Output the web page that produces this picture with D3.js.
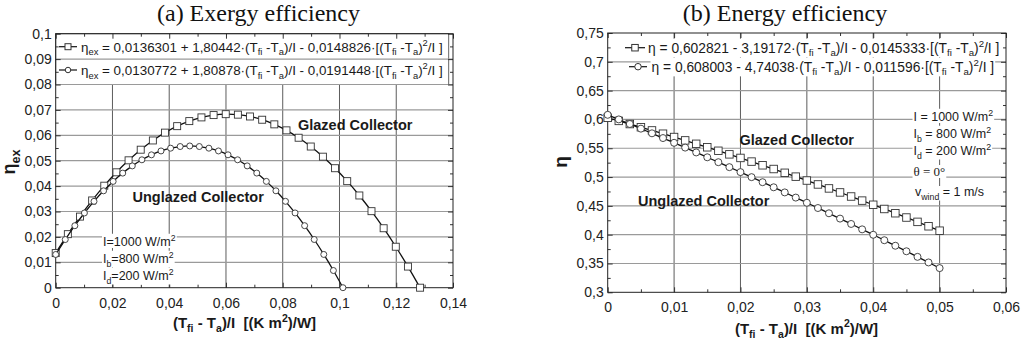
<!DOCTYPE html>
<html><head><meta charset="utf-8">
<script src="https://cdn.jsdelivr.net/npm/d3@7"></script>
<style>
body{margin:0;background:#fff;}
svg{display:block;font-family:"Liberation Sans",Arial,sans-serif;}
text{white-space:pre;}
</style></head><body>
<svg id="c" width="1024" height="344"></svg>
<script>
// ---------- data ----------
const exGlazedX = [0,0.00428,0.00856,0.01284,0.01712,0.0214,0.02568,0.02996,0.03424,0.03852,0.0428,0.04708,0.05136,0.05564,0.05992,0.0642,0.06848,0.07276,0.07704,0.08132,0.0856,0.08988,0.09416,0.09844,0.10272,0.107,0.11128,0.11556,0.11984,0.12412,0.1284];
const exGlazedY = [0.01363,0.02108,0.02799,0.03435,0.04016,0.04543,0.05015,0.05433,0.05797,0.06105,0.06360,0.06559,0.06705,0.06796,0.06832,0.06813,0.06741,0.06613,0.06431,0.06195,0.05904,0.05558,0.05158,0.04704,0.04195,0.03631,0.03013,0.02341,0.01613,0.00832,0];
const exUnglazedX = [0,0.00337,0.00675,0.01012,0.0135,0.01687,0.02024,0.02362,0.02699,0.03037,0.03374,0.03711,0.04049,0.04386,0.04724,0.05061,0.05398,0.05736,0.06073,0.06411,0.06748,0.07085,0.07423,0.0776,0.08098,0.08435,0.08772,0.0911,0.09447,0.09785,0.10122];
const exUnglazedY = [0.01308,0.01896,0.02441,0.02942,0.03400,0.03814,0.04185,0.04512,0.04795,0.05035,0.05231,0.05384,0.05493,0.05558,0.05580,0.05558,0.05493,0.05384,0.05232,0.05035,0.04796,0.04513,0.04186,0.03815,0.03401,0.02943,0.02442,0.01898,0.01309,0.00677,0];
const enX = [0,0.00167,0.00333,0.005,0.00667,0.00833,0.01,0.01167,0.01333,0.015,0.01667,0.01833,0.02,0.02167,0.02333,0.025,0.02667,0.02833,0.03,0.03167,0.03333,0.035,0.03667,0.03833,0.04,0.04167,0.04333,0.045,0.04667,0.04833,0.05];
const enGlazedY = [0.60282,0.59746,0.59202,0.58650,0.58090,0.57521,0.56945,0.56361,0.55768,0.55168,0.54559,0.53942,0.53317,0.52684,0.52044,0.51395,0.50737,0.50072,0.49399,0.48718,0.48028,0.47331,0.46625,0.45912,0.45190,0.44460,0.43722,0.42977,0.42223,0.41460,0.40690];
const enUnglazedY = [0.60800,0.60007,0.59207,0.58401,0.57589,0.56769,0.55944,0.55112,0.54274,0.53429,0.52578,0.51720,0.50856,0.49985,0.49108,0.48225,0.47335,0.46438,0.45536,0.44626,0.43711,0.42789,0.41860,0.40925,0.39984,0.39036,0.38081,0.37121,0.36153,0.35180,0.34200];

const exXTicks = [0,0.02,0.04,0.06,0.08,0.1,0.12,0.14];
const exXLabels = ["0","0,02","0,04","0,06","0,08","0,1","0,12","0,14"];
const exXMinor = [0.01,0.03,0.05,0.07,0.09,0.11,0.13];
const exYTicks = [0,0.01,0.02,0.03,0.04,0.05,0.06,0.07,0.08,0.09,0.1];
const exYLabels = ["0","0,01","0,02","0,03","0,04","0,05","0,06","0,07","0,08","0,09","0,1"];
const exYMinor = [0.005,0.015,0.025,0.035,0.045,0.055,0.065,0.075,0.085,0.095];
const enXTicks = [0,0.01,0.02,0.03,0.04,0.05,0.06];
const enXLabels = ["0","0,01","0,02","0,03","0,04","0,05","0,06"];
const enXMinor = [0.005,0.015,0.025,0.035,0.045,0.055];
const enYTicks = [0.3,0.35,0.4,0.45,0.5,0.55,0.6,0.65,0.7,0.75];
const enYLabels = ["0,3","0,35","0,4","0,45","0,5","0,55","0,6","0,65","0,7","0,75"];
const enYMinor = [0.325,0.375,0.425,0.475,0.525,0.575,0.625,0.675,0.725];

const titles = ["(a) Exergy efficiency","(b) Energy efficiency"];
const seriesNames = ["Glazed Collector","Unglazed Collector"];

// ---------- helpers ----------
const svg = d3.select("#c");
function rich(t, segs, fs){
  let off = 0;
  segs.forEach(([s,k])=>{
    const ts = t.append("tspan").text(s);
    let target = 0;
    if(k==="sub"){ ts.attr("font-size", fs*0.7); target = fs*0.28; }
    else if(k==="sup"){ ts.attr("font-size", fs*0.7); target = -fs*0.42; }
    if(target!==off){ ts.attr("dy", target-off); off = target; }
  });
  return t;
}
function label(g, x, y, segs, o){
  o = o||{};
  const fs = o.fs||13;
  const t = g.append("text").attr("x",x).attr("y",y)
    .attr("font-size",fs).attr("fill",o.fill||"#1a1a1a")
    .attr("text-anchor",o.anchor||"start");
  if(o.bold) t.attr("font-weight","bold");
  if(o.family) t.attr("font-family",o.family);
  if(o.transform) t.attr("transform",o.transform);
  rich(t, segs, fs);
  if(o.bg){
    const b = t.node().getBBox();
    g.insert("rect", ()=>t.node()).attr("x",b.x-1).attr("y",b.y+1).attr("width",b.width+2).attr("height",b.height-2).attr("fill","#fff");
  }
  return t;
}

function panel(P){
  const g = svg.append("g");
  const x = d3.scaleLinear().domain(P.xd).range(P.xr);
  const y = d3.scaleLinear().domain(P.yd).range(P.yr);
  const [x0,x1] = P.xr, [yb,yt] = P.yr;

  // vertical gridlines
  g.append("g").selectAll("line").data(P.xt.slice(1,-1)).join("line")
    .attr("x1",d=>x(d)).attr("x2",d=>x(d)).attr("y1",P.vGridTop||yt).attr("y2",yb)
    .attr("stroke","#4a4a4a").attr("stroke-width",0.9);
  if(P.legendBox){
    g.append("rect").attr("x",x0).attr("y",yt).attr("width",P.legendBox.w).attr("height",P.legendBox.h)
      .attr("fill","#fff").attr("stroke","#555").attr("stroke-width",0.9);
  }
  // horizontal gridlines
  g.append("g").selectAll("line").data(P.yt.slice(1,-1)).join("line")
    .attr("x1",x0).attr("x2",x1).attr("y1",d=>y(d)).attr("y2",d=>y(d))
    .attr("stroke","#9a9a9a").attr("stroke-width",1.2);

  // axes (inward ticks)
  const fmtX = (d,i)=>P.xl[i], fmtY=(d,i)=>P.yl[i];
  const style = s=>s.attr("font-family","Liberation Sans, Arial, sans-serif").attr("font-size",14)
      .call(a=>a.select(".domain").remove()).call(a=>a.selectAll("line").attr("stroke","#333"))
      .call(a=>a.selectAll("text").attr("fill","#222"));
  g.append("g").attr("transform",`translate(0,${yb})`).call(d3.axisBottom(x).tickValues(P.xt).tickFormat(fmtX).tickSizeInner(-5).tickSizeOuter(0).tickPadding(P.xpad)).call(style);
  g.append("g").attr("transform",`translate(0,${yb})`).call(d3.axisBottom(x).tickValues(P.xm).tickFormat("").tickSizeInner(-3).tickSizeOuter(0)).call(style);
  g.append("g").attr("transform",`translate(0,${yt})`).call(d3.axisTop(x).tickValues(P.xt).tickFormat("").tickSizeInner(-5).tickSizeOuter(0)).call(style);
  g.append("g").attr("transform",`translate(0,${yt})`).call(d3.axisTop(x).tickValues(P.xm).tickFormat("").tickSizeInner(-3).tickSizeOuter(0)).call(style);
  g.append("g").attr("transform",`translate(${x0},0)`).call(d3.axisLeft(y).tickValues(P.yt).tickFormat(fmtY).tickSizeInner(-5).tickSizeOuter(0).tickPadding(4)).call(style);
  g.append("g").attr("transform",`translate(${x0},0)`).call(d3.axisLeft(y).tickValues(P.ym).tickFormat("").tickSizeInner(-3).tickSizeOuter(0)).call(style);
  g.append("g").attr("transform",`translate(${x1},0)`).call(d3.axisRight(y).tickValues(P.yt).tickFormat("").tickSizeInner(-5).tickSizeOuter(0)).call(style);
  g.append("g").attr("transform",`translate(${x1},0)`).call(d3.axisRight(y).tickValues(P.ym).tickFormat("").tickSizeInner(-3).tickSizeOuter(0)).call(style);

  // frame
  g.append("rect").attr("x",x0).attr("y",yt).attr("width",x1-x0).attr("height",yb-yt)
    .attr("fill","none").attr("stroke","#222").attr("stroke-width",1);

  // series
  const line = d3.line().x(d=>x(d[0])).y(d=>y(d[1])).curve(d3.curveCatmullRom);
  P.series.forEach(s=>{
    const pts = s.x.map((v,i)=>[v,s.y[i]]);
    g.append("path").attr("d",line(pts)).attr("fill","none").attr("stroke","#111").attr("stroke-width",1.3);
    const m = g.append("g");
    if(s.shape==="square"){
      m.selectAll("rect").data(pts).join("rect")
        .attr("x",d=>x(d[0])-s.size/2).attr("y",d=>y(d[1])-s.size/2).attr("width",s.size).attr("height",s.size)
        .attr("fill","#fff").attr("stroke","#333").attr("stroke-width",0.9);
    } else {
      m.selectAll("circle").data(pts).join("circle")
        .attr("cx",d=>x(d[0])).attr("cy",d=>y(d[1])).attr("r",s.size/2)
        .attr("fill","#fff").attr("stroke","#333").attr("stroke-width",0.9);
    }
  });
  return {g,x,y};
}

// ---------- panel (a) ----------
const A = panel({xd:[0,0.14], xr:[55.7,453], yd:[0,0.1], yr:[287.7,33.7],
  xt:exXTicks, xl:exXLabels, xm:exXMinor, yt:exYTicks, yl:exYLabels, ym:exYMinor, xpad:10,
  vGridTop:84.5, legendBox:{w:393,h:50.8},
  series:[{x:exGlazedX,y:exGlazedY,shape:"square",size:7},{x:exUnglazedX,y:exUnglazedY,shape:"circle",size:6}]});

// ---------- panel (b) ----------
const B = panel({xd:[0,0.06], xr:[607.7,1006], yd:[0.3,0.75], yr:[292.3,33],
  xt:enXTicks, xl:enXLabels, xm:enXMinor, yt:enYTicks, yl:enYLabels, ym:enYMinor, xpad:9.5,
  series:[{x:enX,y:enGlazedY,shape:"square",size:7.5},{x:enX,y:enUnglazedY,shape:"circle",size:7}]});

// titles
const T = svg.append("g");
label(T, 258.5, 21, [[titles[0],""]], {fs:24, anchor:"middle", family:"Liberation Serif, Times New Roman, serif", fill:"#111"});
label(T, 785, 21, [[titles[1],""]], {fs:24, anchor:"middle", family:"Liberation Serif, Times New Roman, serif", fill:"#111"});

// axis titles
const xTitle = [["(T",""],["fi","sub"],[" - T",""],["a","sub"],[")/I  [(K m",""],["2","sup"],[")/W]",""]];
label(T, 244.5, 328, xTitle, {fs:15, bold:true, anchor:"middle"});
label(T, 806.5, 333.5, xTitle, {fs:15, bold:true, anchor:"middle"});
label(T, 0, 0, [["η",""],["ex","sub"]], {fs:18, bold:true, anchor:"middle", transform:"translate(15,162) rotate(-90)"});
label(T, 0, 0, [["η",""]], {fs:19, bold:true, anchor:"middle", transform:"translate(567,162) rotate(-90)"});

// legend (a)
const LA = A.g.append("g");
function legSym(g, x0, x1, yy, shape, size){
  g.append("line").attr("x1",x0).attr("x2",x1).attr("y1",yy).attr("y2",yy).attr("stroke","#111").attr("stroke-width",1.2);
  const c=(x0+x1)/2;
  if(shape==="square") g.append("rect").attr("x",c-size/2).attr("y",yy-size/2).attr("width",size).attr("height",size).attr("fill","#fff").attr("stroke","#333");
  else g.append("circle").attr("cx",c).attr("cy",yy).attr("r",size/2).attr("fill","#fff").attr("stroke","#333");
}
legSym(LA, 59, 77, 46.7, "square", 6);
legSym(LA, 59, 77, 70, "circle", 5.5);
label(LA, 81, 51.5, [["η",""],["ex","sub"],[" = 0,0136301 + 1,80442·(T",""],["fi","sub"],[" -T",""],["a","sub"],[")/I - 0,0148826·[(T",""],["fi","sub"],[" -T",""],["a","sub"],[")",""],["2","sup"],["/I ]",""]], {fs:13.4});
label(LA, 81, 74.8, [["η",""],["ex","sub"],[" = 0,0130772 + 1,80878·(T",""],["fi","sub"],[" -T",""],["a","sub"],[")/I - 0,0191448·[(T",""],["fi","sub"],[" -T",""],["a","sub"],[")",""],["2","sup"],["/I ]",""]], {fs:13.4});

// legend (b)
const LB = B.g.append("g");
label(LB, 648, 52.5, [["η = 0,602821 - 3,19172·(T",""],["fi","sub"],[" -T",""],["a","sub"],[")/I - 0,0145333·[(T",""],["fi","sub"],[" -T",""],["a","sub"],[")",""],["2","sup"],["/I ]",""]], {fs:13.8, bg:true});
label(LB, 651.5, 71.5, [["η = 0,608003 - 4,74038·(T",""],["fi","sub"],[" -T",""],["a","sub"],[")/I - 0,011596·[(T",""],["fi","sub"],[" -T",""],["a","sub"],[")",""],["2","sup"],["/I ]",""]], {fs:13.8, bg:true});
legSym(LB, 625, 645, 47.7, "square", 6.5);
legSym(LB, 629, 647, 66.7, "circle", 6.5);

// series labels
label(A.g, 298, 130, [[seriesNames[0],""]], {fs:14.5, bold:true});
label(A.g, 132.5, 201.5, [[seriesNames[1],""]], {fs:14.5, bold:true});
label(B.g, 739.5, 145, [[seriesNames[0],""]], {fs:14.5, bold:true});
label(B.g, 638, 205.5, [[seriesNames[1],""]], {fs:14.5, bold:true});

// annotations (a)
label(A.g, 103, 246, [["I=1000 W/m",""],["2","sup"]], {fs:12.5, bg:true});
label(A.g, 103, 263, [["I",""],["b","sub"],["=800 W/m",""],["2","sup"]], {fs:12.5, bg:true});
label(A.g, 103, 280, [["I",""],["d","sub"],["=200 W/m",""],["2","sup"]], {fs:12.5, bg:true});
// annotations (b)
label(B.g, 913.5, 121, [["I = 1000 W/m",""],["2","sup"]], {fs:12.5, bg:true});
label(B.g, 913.5, 138, [["I",""],["b","sub"],[" = 800 W/m",""],["2","sup"]], {fs:12.5, bg:true});
label(B.g, 913.5, 155, [["I",""],["d","sub"],[" = 200 W/m",""],["2","sup"]], {fs:12.5, bg:true});
label(B.g, 913.5, 176, [["θ = 0°",""]], {fs:13, bg:true, family:"Liberation Serif, Times New Roman, serif"});
label(B.g, 915, 196, [["v",""],["wind","sub"],[" = 1 m/s",""]], {fs:12.5, bg:true});
</script>
</body></html>
